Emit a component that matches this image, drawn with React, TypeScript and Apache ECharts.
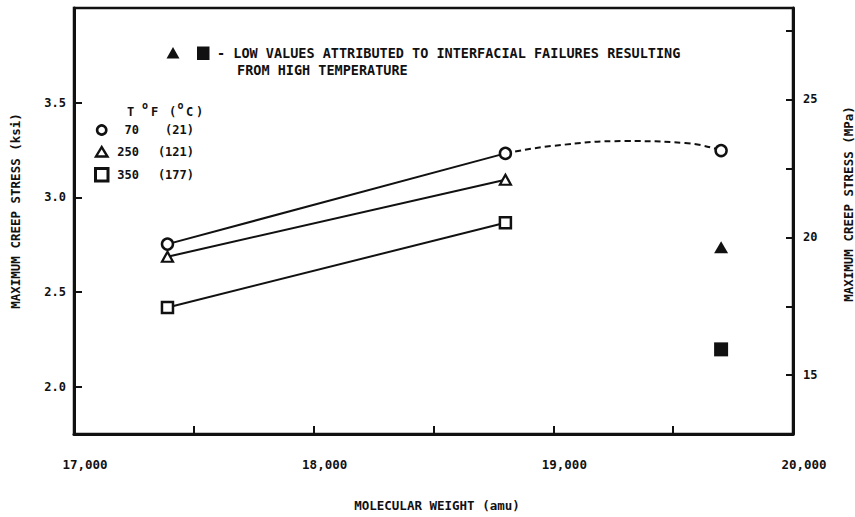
import React, { useEffect, useRef } from "react";
import * as echarts from "echarts";

// ---- data ----
const xLabelValues = [17000, 18000, 19000, 20000];
const leftTickValues = [2.0, 2.5, 3.0, 3.5];
const rightTickValues = [15, 17.5, 20, 22.5, 25, 27.5];
const rightLabelValues = [15, 20, 25];

const series70 = [
  [17390, 2.753],
  [18800, 3.232],
];
const series70Trend = [
  [18800, 3.232],
  [19000, 3.272],
  [19300, 3.297],
  [19550, 3.287],
  [19700, 3.247],
];
const point70High = [[19700, 3.247]];
const series250 = [
  [17390, 2.686],
  [18800, 3.093],
];
const series350 = [
  [17390, 2.418],
  [18800, 2.866],
];
const failure250 = [[19700, 2.737]];
const failure350 = [[19700, 2.197]];

const legendF = ["70", "250", "350"];
const legendC = ["(21)", "(121)", "(177)"];

const FONT = "'DejaVu Sans Mono', 'Liberation Mono', monospace";
const INK = "#111";

export default function App() {
  const ref = useRef<HTMLDivElement>(null);

  useEffect(() => {
    if (!ref.current) return;
    const chart = echarts.init(ref.current, undefined, { renderer: "svg" });

    const txt = (text: string, x: number, y: number, extra: any = {}) => ({
      type: "text",
      x,
      y,
      silent: true,
      style: {
        text,
        fill: INK,
        font: `bold ${extra.fontSize || 12}px ${FONT}`,
        align: extra.align || "left",
        verticalAlign: "middle",
      },
      ...(extra.rotation !== undefined ? { rotation: extra.rotation } : {}),
    });

    const legendRowsY = [130, 152, 175];
    const graphic: any[] = [
      // axis titles
      txt("MAXIMUM CREEP STRESS (ksi)", 15, 211, { fontSize: 12.5, align: "center", rotation: Math.PI / 2 }),
      txt("MAXIMUM CREEP STRESS (MPa)", 848, 204, { fontSize: 12.5, align: "center", rotation: Math.PI / 2 }),
      // annotation
      {
        type: "polygon",
        silent: true,
        shape: { points: [[166.5, 58.5], [179.5, 58.5], [173, 47]] },
        style: { fill: INK },
      },
      {
        type: "rect",
        silent: true,
        shape: { x: 197, y: 46.5, width: 12.5, height: 13.5 },
        style: { fill: INK },
      },
      txt("- LOW VALUES ATTRIBUTED TO INTERFACIAL FAILURES RESULTING", 217, 53, { fontSize: 13.5 }),
      txt("FROM HIGH TEMPERATURE", 237, 70, { fontSize: 13.5 }),
      // legend header
      txt("T", 127, 112, { fontSize: 12 }),
      txt("o", 142, 105, { fontSize: 10 }),
      txt("F", 151, 112, { fontSize: 12 }),
      txt("(", 169, 112, { fontSize: 12 }),
      txt("o", 177.5, 105, { fontSize: 10 }),
      txt("C", 186, 112, { fontSize: 12 }),
      txt(")", 196, 112, { fontSize: 12 }),
      // legend symbols
      {
        type: "circle",
        silent: true,
        shape: { cx: 101.7, cy: legendRowsY[0], r: 4.6 },
        style: { fill: "#fff", stroke: INK, lineWidth: 2.6 },
      },
      {
        type: "polygon",
        silent: true,
        shape: { points: [[96, 156.5], [107.5, 156.5], [101.7, 147]] },
        style: { fill: "#fff", stroke: INK, lineWidth: 2.4 },
      },
      {
        type: "rect",
        silent: true,
        shape: { x: 95.5, y: 168.5, width: 12.5, height: 12.5 },
        style: { fill: "#fff", stroke: INK, lineWidth: 3 },
      },
    ];
    legendF.forEach((t, i) => graphic.push(txt(t, 139, legendRowsY[i], { fontSize: 12, align: "right" })));
    legendC.forEach((t, i) => graphic.push(txt(t, 194, legendRowsY[i], { fontSize: 12, align: "right" })));

    const labelStyle = { color: INK, fontFamily: FONT, fontWeight: "bold" as const };

    const option: any = {
      animation: false,
      backgroundColor: "#fff",
      grid: {
        left: 74,
        right: 62,
        top: 8,
        bottom: 74,
        show: true,
        borderColor: INK,
        borderWidth: 2.5,
        backgroundColor: "transparent",
      },
      xAxis: {
        type: "value",
        min: 17000,
        max: 20000,
        interval: 500,
        name: "MOLECULAR WEIGHT (amu)",
        nameLocation: "middle",
        nameGap: 65,
        nameTextStyle: { ...labelStyle, fontSize: 12.5, padding: [0, 0, 0, 7] },
        axisLine: { show: true, lineStyle: { color: INK, width: 3 } },
        axisTick: { show: true, inside: true, length: 8, lineStyle: { color: INK, width: 2 } },
        axisLabel: {
          ...labelStyle,
          fontSize: 12.5,
          margin: 24,
          padding: [0, 0, 0, 22],
          customValues: xLabelValues,
          formatter: (v: number) => v.toLocaleString("en-US"),
        },
        splitLine: { show: false },
      },
      yAxis: [
        {
          type: "value",
          min: 1.75,
          max: 4.0,
          position: "left",
          axisLine: { show: true, lineStyle: { color: INK, width: 3 } },
          axisTick: {
            show: true,
            inside: true,
            length: 8,
            customValues: leftTickValues,
            lineStyle: { color: INK, width: 2 },
          },
          axisLabel: {
            ...labelStyle,
            fontSize: 12,
            margin: 8,
            customValues: leftTickValues,
            formatter: (v: number) => v.toFixed(1),
          },
          splitLine: { show: false },
        },
        {
          type: "value",
          min: 12.869,
          max: 28.317,
          position: "right",
          axisLine: { show: true, lineStyle: { color: INK, width: 3 } },
          axisTick: {
            show: true,
            inside: true,
            length: 7,
            customValues: rightTickValues,
            lineStyle: { color: INK, width: 2 },
          },
          axisLabel: {
            ...labelStyle,
            fontSize: 12,
            margin: 10,
            customValues: rightLabelValues,
            formatter: (v: number) => String(v),
          },
          splitLine: { show: false },
        },
      ],
      series: [
        {
          type: "line",
          data: series70Trend,
          smooth: 0.5,
          showSymbol: false,
          symbol: "none",
          lineStyle: { color: INK, width: 2, type: [6, 4] },
          z: 1,
        },
        {
          type: "line",
          data: series70,
          symbol: "circle",
          symbolSize: 11,
          lineStyle: { color: INK, width: 2 },
          itemStyle: { color: "#fff", borderColor: INK, borderWidth: 2.5 },
          z: 3,
        },
        {
          type: "scatter",
          data: point70High,
          symbol: "circle",
          symbolSize: 11,
          itemStyle: { color: "#fff", borderColor: INK, borderWidth: 2.5, opacity: 1 },
          z: 3,
        },
        {
          type: "line",
          data: series250,
          symbol: "triangle",
          symbolSize: [11, 10],
          lineStyle: { color: INK, width: 2 },
          itemStyle: { color: "#fff", borderColor: INK, borderWidth: 2.2 },
          z: 3,
        },
        {
          type: "line",
          data: series350,
          symbol: "rect",
          symbolSize: 11,
          lineStyle: { color: INK, width: 2 },
          itemStyle: { color: "#fff", borderColor: INK, borderWidth: 2.5 },
          z: 3,
        },
        {
          type: "scatter",
          data: failure250,
          symbol: "triangle",
          symbolSize: [14, 12],
          itemStyle: { color: INK, opacity: 1 },
          z: 3,
        },
        {
          type: "scatter",
          data: failure350,
          symbol: "rect",
          symbolSize: 14,
          itemStyle: { color: INK, opacity: 1 },
          z: 3,
        },
      ],
      graphic,
    };

    chart.setOption(option);
    return () => chart.dispose();
  }, []);

  return (
    <div
      ref={ref}
      style={{ position: "fixed", left: 0, top: 0, width: 855, height: 517, background: "#fff" }}
    />
  );
}
